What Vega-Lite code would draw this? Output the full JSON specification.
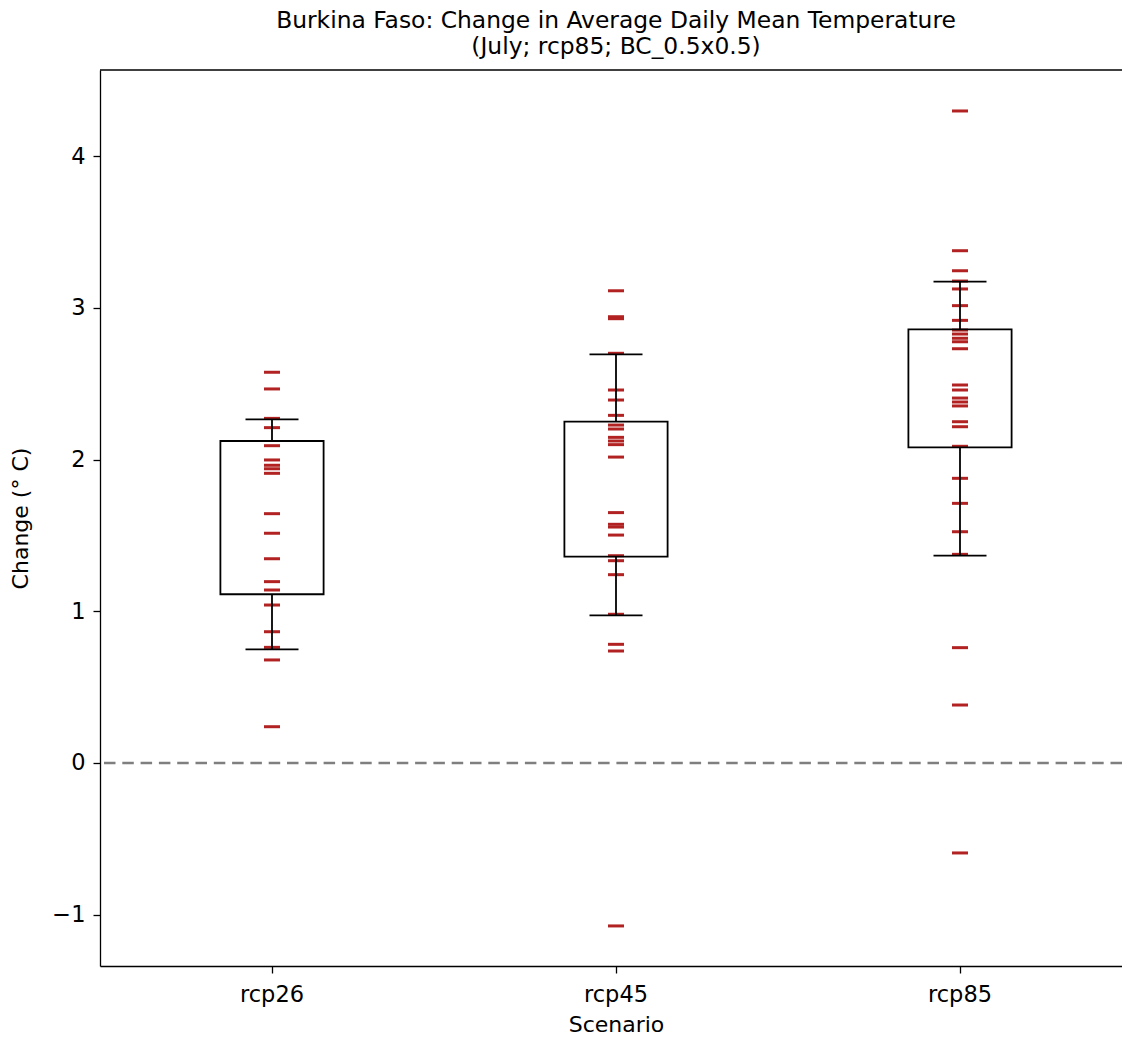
{
  "$schema": "https://vega.github.io/schema/vega-lite/v6.json",
  "autosize": "none",
  "width": 1022,
  "height": 896,
  "padding": {"left": 100, "top": 70, "right": 0, "bottom": 72},
  "background": "white",
  "config": {
    "view": {"stroke": null},
    "font": "DejaVu Sans",
    "axis": {"labelFont": "DejaVu Sans", "titleFont": "DejaVu Sans", "labelColor": "black", "titleColor": "black", "labelFontSize": 22.5, "titleFontSize": 22, "titleFontWeight": "normal", "domainColor": "black", "domainWidth": 1.3, "tickColor": "black", "tickWidth": 1.3, "tickSize": 7, "grid": false}
  },
  "title": {
    "text": ["Burkina Faso: Change in Average Daily Mean Temperature", "(July; rcp85; BC_0.5x0.5)"],
    "font": "DejaVu Sans",
    "fontSize": 23.4,
    "fontWeight": "normal",
    "color": "black",
    "anchor": "middle",
    "frame": "group",
    "dx": 5,
    "offset": 10,
    "lineHeight": 26
  },
  "datasets": {
    "points": [
      {"scenario": "rcp26", "change": 2.575},
      {"scenario": "rcp26", "change": 2.465},
      {"scenario": "rcp26", "change": 2.271},
      {"scenario": "rcp26", "change": 2.21},
      {"scenario": "rcp26", "change": 2.091},
      {"scenario": "rcp26", "change": 1.997},
      {"scenario": "rcp26", "change": 1.962},
      {"scenario": "rcp26", "change": 1.939},
      {"scenario": "rcp26", "change": 1.909},
      {"scenario": "rcp26", "change": 1.643},
      {"scenario": "rcp26", "change": 1.514},
      {"scenario": "rcp26", "change": 1.346},
      {"scenario": "rcp26", "change": 1.195},
      {"scenario": "rcp26", "change": 1.14},
      {"scenario": "rcp26", "change": 1.041},
      {"scenario": "rcp26", "change": 0.865},
      {"scenario": "rcp26", "change": 0.762},
      {"scenario": "rcp26", "change": 0.679},
      {"scenario": "rcp26", "change": 0.239},
      {"scenario": "rcp45", "change": 3.112},
      {"scenario": "rcp45", "change": 2.941},
      {"scenario": "rcp45", "change": 2.928},
      {"scenario": "rcp45", "change": 2.7},
      {"scenario": "rcp45", "change": 2.458},
      {"scenario": "rcp45", "change": 2.392},
      {"scenario": "rcp45", "change": 2.291},
      {"scenario": "rcp45", "change": 2.227},
      {"scenario": "rcp45", "change": 2.201},
      {"scenario": "rcp45", "change": 2.146},
      {"scenario": "rcp45", "change": 2.122},
      {"scenario": "rcp45", "change": 2.098},
      {"scenario": "rcp45", "change": 2.016},
      {"scenario": "rcp45", "change": 1.65},
      {"scenario": "rcp45", "change": 1.573},
      {"scenario": "rcp45", "change": 1.555},
      {"scenario": "rcp45", "change": 1.502},
      {"scenario": "rcp45", "change": 1.366},
      {"scenario": "rcp45", "change": 1.333},
      {"scenario": "rcp45", "change": 1.241},
      {"scenario": "rcp45", "change": 0.98},
      {"scenario": "rcp45", "change": 0.782},
      {"scenario": "rcp45", "change": 0.738},
      {"scenario": "rcp45", "change": -1.074},
      {"scenario": "rcp85", "change": 4.297},
      {"scenario": "rcp85", "change": 3.376},
      {"scenario": "rcp85", "change": 3.244},
      {"scenario": "rcp85", "change": 3.176},
      {"scenario": "rcp85", "change": 3.124},
      {"scenario": "rcp85", "change": 3.014},
      {"scenario": "rcp85", "change": 2.917},
      {"scenario": "rcp85", "change": 2.853},
      {"scenario": "rcp85", "change": 2.827},
      {"scenario": "rcp85", "change": 2.799},
      {"scenario": "rcp85", "change": 2.776},
      {"scenario": "rcp85", "change": 2.73},
      {"scenario": "rcp85", "change": 2.491},
      {"scenario": "rcp85", "change": 2.458},
      {"scenario": "rcp85", "change": 2.405},
      {"scenario": "rcp85", "change": 2.379},
      {"scenario": "rcp85", "change": 2.353},
      {"scenario": "rcp85", "change": 2.249},
      {"scenario": "rcp85", "change": 2.216},
      {"scenario": "rcp85", "change": 2.087},
      {"scenario": "rcp85", "change": 1.876},
      {"scenario": "rcp85", "change": 1.711},
      {"scenario": "rcp85", "change": 1.524},
      {"scenario": "rcp85", "change": 1.375},
      {"scenario": "rcp85", "change": 0.76},
      {"scenario": "rcp85", "change": 0.382},
      {"scenario": "rcp85", "change": -0.593}
    ],
    "stats": [
      {"scenario": "rcp26", "q1": 1.112, "q3": 2.122, "wlo": 0.749, "whi": 2.265},
      {"scenario": "rcp45", "q1": 1.36, "q3": 2.249, "wlo": 0.973, "whi": 2.693},
      {"scenario": "rcp85", "q1": 2.08, "q3": 2.858, "wlo": 1.366, "whi": 3.172}
    ],
    "frame": [{"edge": 4.567}],
    "zero": [{"level": 0}]
  },
  "encoding": {
    "x": {
      "field": "scenario",
      "type": "nominal",
      "scale": {"type": "band", "domain": ["rcp26", "rcp45", "rcp85"], "range": [0, 1032], "paddingInner": 0, "paddingOuter": 0},
      "axis": {"title": "Scenario", "labelAngle": 0, "labelPadding": 10, "titlePadding": 9}
    }
  },
  "layer": [
    {
      "data": {"name": "frame"},
      "mark": {"type": "rule", "color": "black", "strokeWidth": 1.3},
      "encoding": {
        "x": null,
        "y": {"field": "edge", "type": "quantitative", "scale": {"domain": [-1.338, 4.567], "nice": false, "zero": false}}
      }
    },
    {
      "data": {"name": "zero"},
      "mark": {"type": "rule", "color": "#7f7f7f", "strokeWidth": 2.5, "strokeDash": [11.5, 6.8]},
      "encoding": {
        "x": null,
        "y": {"field": "level", "type": "quantitative"}
      }
    },
    {
      "data": {"name": "points"},
      "mark": {"type": "tick", "orient": "horizontal", "color": "#b22222", "size": 16, "thickness": 3, "opacity": 1},
      "encoding": {
        "y": {
          "field": "change",
          "type": "quantitative",
          "scale": {"domain": [-1.338, 4.567], "nice": false, "zero": false},
          "axis": {"title": "Change (° C)", "values": [-1, 0, 1, 2, 3, 4], "format": "d", "labelPadding": 8, "titlePadding": 19}
        }
      }
    },
    {
      "data": {"name": "stats"},
      "mark": {"type": "bar", "filled": false, "stroke": "black", "strokeWidth": 1.8, "width": {"band": 0.3}},
      "encoding": {
        "y": {"field": "q1", "type": "quantitative"},
        "y2": {"field": "q3"}
      }
    },
    {
      "data": {"name": "stats"},
      "mark": {"type": "rule", "color": "black", "strokeWidth": 1.8},
      "encoding": {
        "y": {"field": "wlo", "type": "quantitative"},
        "y2": {"field": "q1"}
      }
    },
    {
      "data": {"name": "stats"},
      "mark": {"type": "rule", "color": "black", "strokeWidth": 1.8},
      "encoding": {
        "y": {"field": "q3", "type": "quantitative"},
        "y2": {"field": "whi"}
      }
    },
    {
      "data": {"name": "stats"},
      "mark": {"type": "tick", "orient": "horizontal", "color": "black", "size": 53, "thickness": 1.8, "opacity": 1},
      "encoding": {
        "y": {"field": "wlo", "type": "quantitative"}
      }
    },
    {
      "data": {"name": "stats"},
      "mark": {"type": "tick", "orient": "horizontal", "color": "black", "size": 53, "thickness": 1.8, "opacity": 1},
      "encoding": {
        "y": {"field": "whi", "type": "quantitative"}
      }
    }
  ]
}
